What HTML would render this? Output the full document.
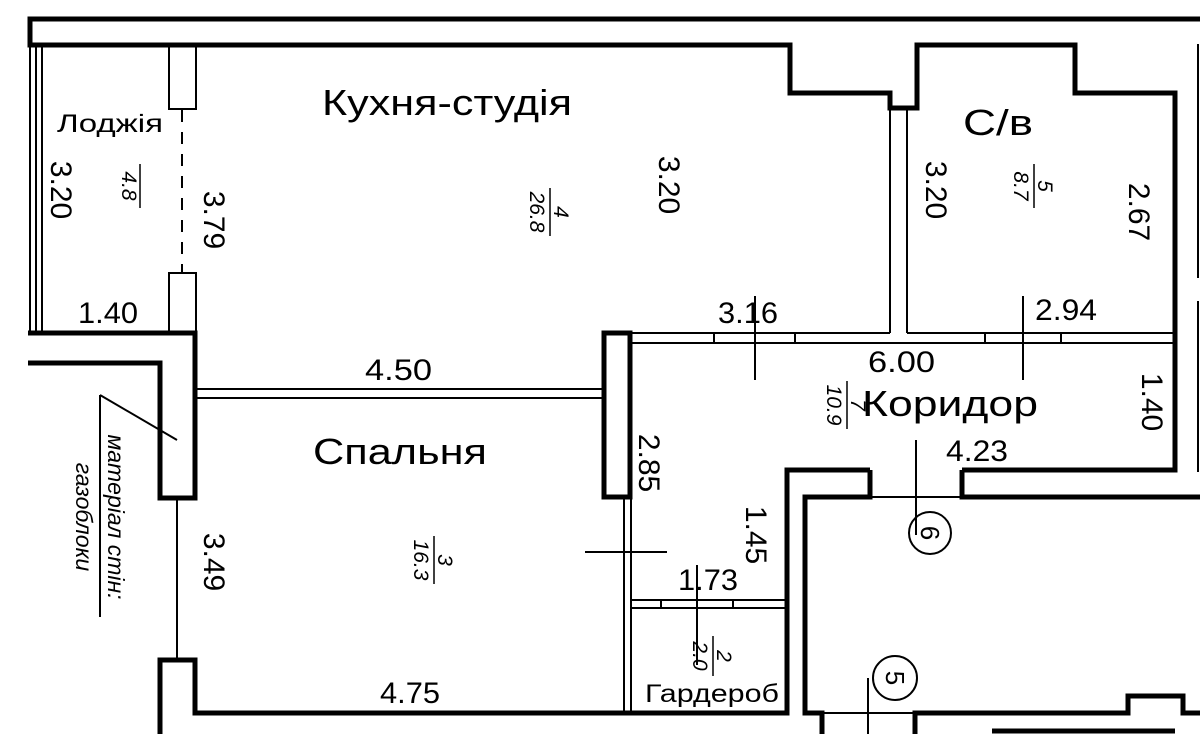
<!DOCTYPE html>
<html><head><meta charset="utf-8"><style>
html,body{margin:0;padding:0;background:#fff;}
svg{display:block;}
text{font-family:"Liberation Sans",sans-serif;fill:#000;}
.d{font-size:30px;}
.r{font-size:36px;}
.f{font-size:21px;font-style:italic;}
</style></head><body>
<svg width="1200" height="734" viewBox="0 0 1200 734" xmlns="http://www.w3.org/2000/svg">
<g fill="none" stroke="#000" stroke-width="5" stroke-linejoin="miter">
<polyline points="1200,19 30,19 30,45 790,45 790,93 890,93 890,108 917,108 917,45 1075,45 1075,93 1175,93 1175,470 962,470"/>
<polyline points="870,470 787,470 787,713 195,713 195,660 160,660 160,734"/>
<polyline points="962,470 962,497 1200,497"/>
<polyline points="870,470 870,497 805,497 805,713 822,713 822,734"/>
<polyline points="915,734 915,713 1128,713 1128,696 1183,696 1183,713 1200,713"/>
<line x1="992" y1="731" x2="1175" y2="731"/>
<polyline points="28,333 195,333 195,498 160,498 160,363 28,363"/>
<rect x="604" y="333" width="26" height="164"/>
</g>
<g fill="none" stroke="#000" stroke-width="2">
<line x1="30" y1="45" x2="30" y2="333"/><line x1="36" y1="45" x2="36" y2="333"/><line x1="42" y1="45" x2="42" y2="333"/>
<rect x="169" y="46" width="27" height="63"/>
<rect x="169" y="273" width="27" height="60"/>
<line x1="182" y1="110" x2="182" y2="273" stroke-dasharray="12,10"/>
<line x1="890" y1="108" x2="890" y2="333"/><line x1="907" y1="108" x2="907" y2="333"/>
<line x1="630" y1="333" x2="890" y2="333"/><line x1="907" y1="333" x2="1175" y2="333"/>
<line x1="630" y1="343" x2="1175" y2="343"/>
<line x1="714" y1="333" x2="714" y2="343"/><line x1="795" y1="333" x2="795" y2="343"/>
<line x1="985" y1="333" x2="985" y2="343"/><line x1="1061" y1="333" x2="1061" y2="343"/>
<line x1="755" y1="296" x2="755" y2="380"/><line x1="1023" y1="296" x2="1023" y2="380"/>
<line x1="196" y1="389" x2="604" y2="389"/><line x1="196" y1="398" x2="604" y2="398"/>
<line x1="177" y1="498" x2="177" y2="660"/>
<line x1="624" y1="497" x2="624" y2="713"/><line x1="631" y1="497" x2="631" y2="713"/>
<line x1="631" y1="600" x2="787" y2="600"/><line x1="631" y1="608" x2="787" y2="608"/>
<line x1="661" y1="600" x2="661" y2="608"/><line x1="733" y1="600" x2="733" y2="608"/>
<line x1="585" y1="552" x2="667" y2="552"/>
<line x1="697" y1="565" x2="697" y2="665"/>
<line x1="870" y1="497" x2="962" y2="497"/>
<line x1="916" y1="440" x2="916" y2="535"/>
<circle cx="930" cy="533" r="21"/>
<circle cx="895" cy="678" r="22"/>
<line x1="868" y1="678" x2="868" y2="734"/>
<line x1="822" y1="713" x2="915" y2="713"/>
<line x1="100" y1="395" x2="177" y2="440"/><line x1="100" y1="395" x2="100" y2="617"/>
<line x1="1198" y1="44" x2="1198" y2="278"/><line x1="1198" y1="301" x2="1198" y2="472"/>
</g>
<text class="r" x="322" y="115" textLength="250" lengthAdjust="spacingAndGlyphs">Кухня-студія</text>
<text class="r" x="963" y="135" textLength="70" lengthAdjust="spacingAndGlyphs">С/в</text>
<text class="r" x="862" y="416" textLength="176" lengthAdjust="spacingAndGlyphs">Коридор</text>
<text class="r" x="313" y="464" textLength="174" lengthAdjust="spacingAndGlyphs">Спальня</text>
<text x="57" y="132" style="font-size:25px" textLength="106" lengthAdjust="spacingAndGlyphs">Лоджія</text>
<text x="645" y="702" style="font-size:25px" textLength="134" lengthAdjust="spacingAndGlyphs">Гардероб</text>
<text class="d" x="78" y="323" textLength="60" lengthAdjust="spacingAndGlyphs">1.40</text>
<text class="d" x="365" y="380" textLength="67" lengthAdjust="spacingAndGlyphs">4.50</text>
<text class="d" x="718" y="323" textLength="60" lengthAdjust="spacingAndGlyphs">3.16</text>
<text class="d" x="1035" y="320" textLength="62" lengthAdjust="spacingAndGlyphs">2.94</text>
<text class="d" x="868" y="372" textLength="67" lengthAdjust="spacingAndGlyphs">6.00</text>
<text class="d" x="946" y="461" textLength="62" lengthAdjust="spacingAndGlyphs">4.23</text>
<text class="d" x="678" y="590" textLength="60" lengthAdjust="spacingAndGlyphs">1.73</text>
<text class="d" x="380" y="703" textLength="60" lengthAdjust="spacingAndGlyphs">4.75</text>
<g class="d" text-anchor="middle">
<text transform="translate(62,190) rotate(90)" y="11">3.20</text>
<text transform="translate(215,220) rotate(90)" y="11">3.79</text>
<text transform="translate(670,185) rotate(90)" y="11">3.20</text>
<text transform="translate(937,190) rotate(90)" y="11">3.20</text>
<text transform="translate(1140,212) rotate(90)" y="11">2.67</text>
<text transform="translate(1153,402) rotate(90)" y="11">1.40</text>
<text transform="translate(650,463) rotate(90)" y="11">2.85</text>
<text transform="translate(757,535) rotate(90)" y="11">1.45</text>
<text transform="translate(215,562) rotate(90)" y="11">3.49</text>
</g>
<g class="f" text-anchor="middle" stroke="none">
<g transform="translate(118,186) rotate(90)"><text y="-4">4.8</text><line x1="-22" y1="-22" x2="22" y2="-22" stroke="#000" stroke-width="1.5"/></g>
<g transform="translate(540,212) rotate(90)"><text y="-14">4</text><line x1="-24" y1="-10" x2="24" y2="-10" stroke="#000" stroke-width="1.5"/><text y="10">26.8</text></g>
<g transform="translate(1024,186) rotate(90)"><text y="-14">5</text><line x1="-22" y1="-10" x2="22" y2="-10" stroke="#000" stroke-width="1.5"/><text y="10">8.7</text></g>
<g transform="translate(424,560) rotate(90)"><text y="-14">3</text><line x1="-24" y1="-10" x2="24" y2="-10" stroke="#000" stroke-width="1.5"/><text y="10">16.3</text></g>
<g transform="translate(837,405) rotate(90)"><text y="-14">7</text><line x1="-24" y1="-10" x2="24" y2="-10" stroke="#000" stroke-width="1.5"/><text y="10">10.9</text></g>
<g transform="translate(703,656) rotate(90)"><text y="-14">2</text><line x1="-20" y1="-10" x2="20" y2="-10" stroke="#000" stroke-width="1.5"/><text y="10">2.0</text></g>
<g transform="translate(100,517) rotate(90)" style="font-size:23px"><text y="-8">матеріал стін:</text><text y="24">газоблоки</text></g>
</g>
<g text-anchor="middle" style="font-size:26px">
<text transform="translate(930,533) rotate(90)" y="9">6</text>
<text transform="translate(895,678) rotate(90)" y="9">5</text>
</g>
</svg>
</body></html>
